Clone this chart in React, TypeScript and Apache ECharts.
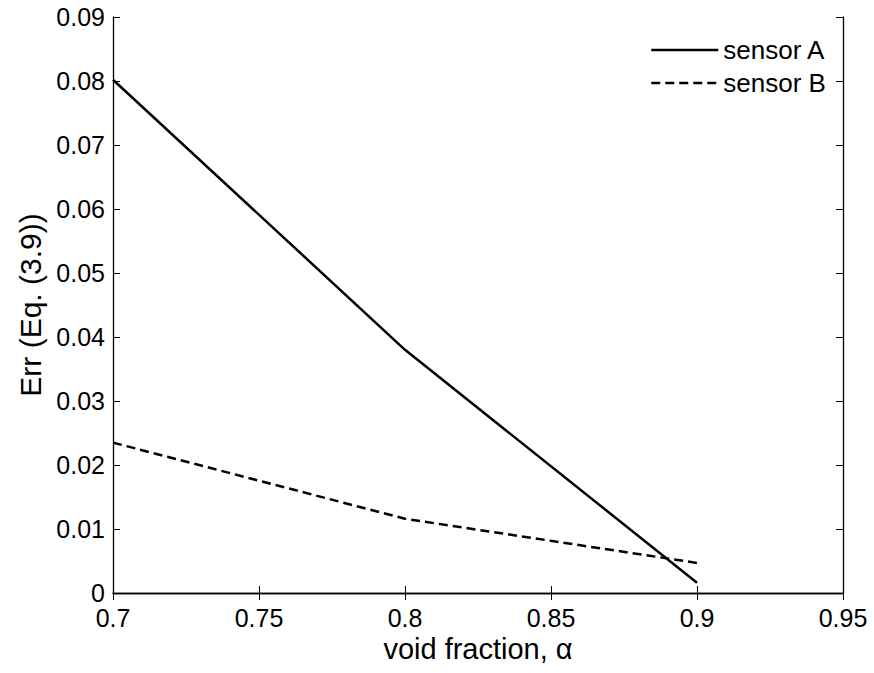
import React, { useEffect, useRef } from "react";
import * as echarts from "echarts";

const xValues = [0.7, 0.8, 0.9];
const sensorA = [0.0802, 0.038, 0.0016];
const sensorB = [0.0235, 0.0116, 0.0047];
const seriesNames = ["sensor A", "sensor B"];
const xAxisName = "void fraction, α";
const yAxisName = "Err (Eq. (3.9))";

const FONT = "'Liberation Sans', Arial, Helvetica, sans-serif";

export default function App() {
  const ref = useRef<HTMLDivElement>(null);
  useEffect(() => {
    if (!ref.current) return;
    const chart = echarts.init(ref.current, undefined, { renderer: "svg" });
    const axisLine = { show: true, lineStyle: { color: "#000", width: 1.3 } };
    const axisTick = { show: true, inside: true, length: 7, lineStyle: { color: "#000", width: 1 } };
    const lbl = { color: "#000", fontSize: 25, fontFamily: FONT };
    const toPairs = (ys: number[]) => xValues.map((x, i) => [x, ys[i]]);
    chart.setOption({
      animation: false,
      backgroundColor: "#fff",
      grid: { left: 113, right: 31, top: 17, bottom: 80, containLabel: false },
      legend: {
        orient: "vertical",
        left: 645,
        top: 32,
        itemWidth: 67,
        itemHeight: 26,
        itemGap: 7,
        itemStyle: { opacity: 0 },
        lineStyle: { width: 2.5 },
        textStyle: { color: "#000", fontSize: 26, fontFamily: FONT },
        data: seriesNames,
      },
      xAxis: [
        {
          type: "value",
          min: 0.7,
          max: 0.95,
          interval: 0.05,
          position: "bottom",
          name: xAxisName,
          nameLocation: "middle",
          nameGap: 32,
          nameTextStyle: { color: "#000", fontSize: 29, fontFamily: FONT },
          axisLine,
          axisTick,
          axisLabel: { ...lbl, margin: 12 },
          splitLine: { show: false },
        },
        {
          type: "value",
          min: 0.7,
          max: 0.95,
          interval: 0.05,
          position: "top",
          axisLine,
          axisTick,
          axisLabel: { show: false },
          splitLine: { show: false },
        },
      ],
      yAxis: [
        {
          type: "value",
          min: 0,
          max: 0.09,
          interval: 0.01,
          position: "left",
          name: yAxisName,
          nameLocation: "middle",
          nameGap: 67,
          nameTextStyle: { color: "#000", fontSize: 30, fontFamily: FONT },
          axisLine,
          axisTick,
          axisLabel: { ...lbl, margin: 8 },
          splitLine: { show: false },
        },
        {
          type: "value",
          min: 0,
          max: 0.09,
          interval: 0.01,
          position: "right",
          axisLine,
          axisTick,
          axisLabel: { show: false },
          splitLine: { show: false },
        },
      ],
      series: [
        {
          name: seriesNames[0],
          type: "line",
          data: toPairs(sensorA),
          symbol: "none",
          lineStyle: { color: "#000", width: 2.5, type: "solid" },
          itemStyle: { color: "#000" },
        },
        {
          name: seriesNames[1],
          type: "line",
          data: toPairs(sensorB),
          symbol: "none",
          lineStyle: { color: "#000", width: 2.5, type: [9, 5] },
          itemStyle: { color: "#000" },
        },
      ],
    });
    return () => chart.dispose();
  }, []);
  return (
    <div
      ref={ref}
      style={{ position: "absolute", left: 0, top: 0, width: 874, height: 673, background: "#fff" }}
    />
  );
}
